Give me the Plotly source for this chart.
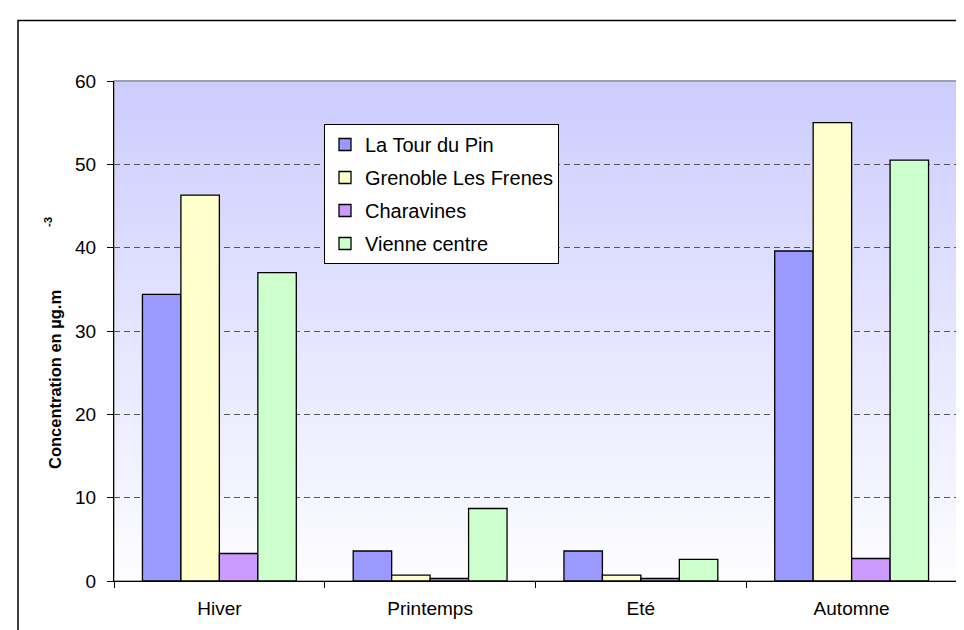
import plotly.graph_objects as go

seasons = ["Hiver", "Printemps", "Eté", "Automne"]
series_names = ["La Tour du Pin", "Grenoble Les Frenes", "Charavines", "Vienne centre"]
la_tour_du_pin = [34.4, 3.6, 3.6, 39.6]
grenoble_les_frenes = [46.3, 0.7, 0.7, 55.0]
charavines = [3.3, 0.3, 0.3, 2.7]
vienne_centre = [37.0, 8.7, 2.6, 50.5]
y_ticks = [0, 10, 20, 30, 40, 50, 60]

series_values = [la_tour_du_pin, grenoble_les_frenes, charavines, vienne_centre]
colors = ["#9999ff", "#ffffcc", "#cc99ff", "#ccffcc"]

W, H = 964, 630
L, R, T, B = 106, 15, 73, 57
pw = W - L - R
ph = H - T - B

def px_x(p):
    return (p - L) / pw

def px_y(p):
    return (H - B - p) / ph

fig = go.Figure()
for i, (name, vals) in enumerate(zip(series_names, series_values)):
    fig.add_trace(go.Bar(
        x=seasons, y=vals, name=name,
        marker=dict(color=colors[i], line=dict(color="#000000", width=1.3)),
        legendgroup=f"g{i}",
    ))

shapes = []
# vertical gradient background for plot area
n = 80
top = (204, 204, 255)
bot = (253, 253, 255)
for k in range(n):
    t = (k + 0.5) / n
    c = tuple(round(bot[j] + (top[j] - bot[j]) * t) for j in range(3))
    shapes.append(dict(type="rect", xref="x domain", yref="y domain",
                       x0=0, x1=1, y0=k / n, y1=(k + 1) / n + 0.002,
                       fillcolor=f"rgb{c}", line=dict(width=0), layer="below"))
# grey plot-area border
shapes.append(dict(type="rect", xref="x domain", yref="y domain", x0=0, x1=1, y0=0, y1=1,
                   line=dict(color="#909090", width=1.5), fillcolor="rgba(0,0,0,0)", layer="below"))
# outer chart border (extends beyond image at right and bottom)
shapes.append(dict(type="rect", xref="paper", yref="paper",
                   x0=px_x(10), x1=px_x(975), y0=px_y(645), y1=px_y(12.5),
                   line=dict(color="#000000", width=1.5), fillcolor="rgba(0,0,0,0)", layer="above"))

fig.update_layout(
    width=W, height=H,
    margin=dict(l=L, r=R, t=T, b=B),
    paper_bgcolor="white", plot_bgcolor="white",
    font=dict(family="Liberation Sans, Arial, sans-serif", size=19, color="#000000"),
    barmode="group", bargap=0.27, bargroupgap=0,
    showlegend=True,
    legend=dict(x=px_x(316), y=px_y(116), xanchor="left", yanchor="top",
                bgcolor="white", bordercolor="#000000", borderwidth=1,
                font=dict(size=20), traceorder="grouped", tracegroupgap=4,
                itemclick=False),
    shapes=shapes,
    annotations=[
        dict(text="<b>Concentration en µg.m</b>",
             xref="paper", yref="paper", x=px_x(47), y=px_y(372),
             xanchor="center", yanchor="middle", textangle=-90,
             showarrow=False, font=dict(size=16.5)),
        dict(text="<b>-3</b>",
             xref="paper", yref="paper", x=px_x(40), y=px_y(214),
             xanchor="center", yanchor="middle", textangle=-90,
             showarrow=False, font=dict(size=11.5)),
    ],
)
fig.update_xaxes(showline=True, linecolor="#000000", linewidth=1,
                 ticks="outside", tickson="boundaries", ticklen=6, tickcolor="#000000",
                 ticklabelstandoff=10,
                 showgrid=False, zeroline=False)
fig.update_yaxes(range=[0, 60], tickvals=y_ticks, showline=True, linecolor="#000000", linewidth=1,
                 ticks="outside", ticklen=6, tickcolor="#000000", ticklabelstandoff=7,
                 showgrid=True, gridcolor="#555555", gridwidth=1, griddash="6px,4px",
                 zeroline=False)

fig.write_html("out.html")
